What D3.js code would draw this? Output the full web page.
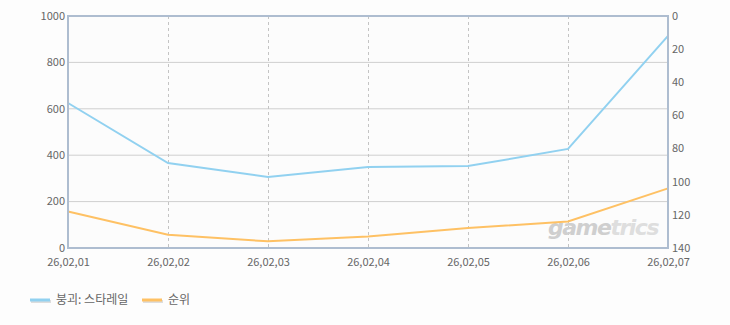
<!DOCTYPE html>
<html>
<head>
<meta charset="utf-8">
<script src="https://cdn.jsdelivr.net/npm/d3@7"></script>
<style>
body { margin: 0; background: #fdfdfd; }
text { font-family: "Noto Sans CJK KR", "DejaVu Sans", sans-serif; fill: #666; }
</style>
</head>
<body>
<div id="chart"></div>
<script>
"use strict";

// data
var dates = ["26,02,01", "26,02,02", "26,02,03", "26,02,04", "26,02,05", "26,02,06", "26,02,07"];
var players = [625, 366, 306, 349, 353, 427, 914];   // 붕괴: 스타레일 (left axis)
var ranks = [118, 132, 136, 133, 128, 124, 104];      // 순위 (right axis, reversed)
var leftTicks = [0, 200, 400, 600, 800, 1000];
var rightTicks = [0, 20, 40, 60, 80, 100, 120, 140];
var legendNames = ["붕괴: 스타레일", "순위"];

var W = 730, H = 325;
var m = {left: 68, right: 62, top: 16, bottom: 77};
var pw = W - m.left - m.right, ph = H - m.top - m.bottom;
var blue = "#91d1f0", orange = "#fec164";

var svg = d3.select('#chart').append('svg').attr('width', W).attr('height', H);
var g = svg.append('g').attr('transform', 'translate(' + m.left + ',' + m.top + ')');

var x = d3.scalePoint().domain(dates).range([0, pw]);
var yl = d3.scaleLinear().domain([0, 1000]).range([ph, 0]);
var yr = d3.scaleLinear().domain([0, 140]).range([0, ph]);

g.append('rect').attr('width', pw).attr('height', ph).attr('fill', '#fcfcfc');

// horizontal grid
g.selectAll('.hg').data(leftTicks.slice(1, -1)).enter().append('line')
	.attr('x1', 0).attr('x2', pw).attr('y1', d => yl(d)).attr('y2', d => yl(d))
	.attr('stroke', '#cfcfcf').attr('stroke-width', 1);

// vertical dashed grid
g.selectAll('.vg').data(dates.slice(1, -1)).enter().append('line')
	.attr('x1', d => x(d) + 0.5).attr('x2', d => x(d) + 0.5).attr('y1', 0).attr('y2', ph)
	.attr('stroke', '#c4c4c4').attr('stroke-dasharray', '3,3');

// watermark
var wm = g.append('text').attr('x', pw - 10).attr('y', ph - 13).attr('text-anchor', 'end')
	.style('font-family', '"DejaVu Sans", sans-serif').style('font-size', '22px')
	.style('font-weight', 'bold').style('font-style', 'italic').style('letter-spacing', '-1.5px');
wm.append('tspan').text('game').style('fill', '#cfcfcf');
wm.append('tspan').text('trics').style('fill', '#dedede');

var line = d3.line();
g.append('path').datum(players.map((v, i) => [x(dates[i]), yl(v)]))
	.attr('d', line).attr('fill', 'none').attr('stroke', blue).attr('stroke-width', 2);
g.append('path').datum(ranks.map((v, i) => [x(dates[i]), yr(v)]))
	.attr('d', line).attr('fill', 'none').attr('stroke', orange).attr('stroke-width', 2);

// frame
g.append('rect').attr('width', pw).attr('height', ph).attr('fill', 'none')
	.attr('stroke', '#aebdd0').attr('stroke-width', 2);

// axes
var axL = g.append('g').call(d3.axisLeft(yl).tickValues(leftTicks).tickFormat(d3.format('d')).tickSize(0).tickPadding(3));
var axR = g.append('g').attr('transform', 'translate(' + pw + ',0)')
	.call(d3.axisRight(yr).tickValues(rightTicks).tickSize(0).tickPadding(4));
var axB = g.append('g').attr('transform', 'translate(0,' + ph + ')')
	.call(d3.axisBottom(x).tickSize(0).tickPadding(10));
[axL, axR, axB].forEach(function(a) {
	a.select('.domain').remove();
	a.selectAll('text').style('font-size', '11px').style('fill', '#666')
		.style('font-family', '"Noto Sans CJK KR", "DejaVu Sans", sans-serif');
});
axL.selectAll('text').attr('dy', '0.3em');
axR.selectAll('text').attr('dy', '0.3em');

// legend
var lg = svg.append('g').attr('transform', 'translate(30,300)');
var lx = [0, 112];
[blue, orange].forEach(function(c, i) {
	var it = lg.append('g').attr('transform', 'translate(' + lx[i] + ',0)');
	it.append('line').attr('x1', 1).attr('x2', 21).attr('y1', 1.5).attr('y2', 1.5)
		.attr('stroke', '#ddd').attr('stroke-width', 3);
	it.append('line').attr('x1', 0).attr('x2', 20).attr('y1', 0).attr('y2', 0)
		.attr('stroke', c).attr('stroke-width', 3);
	it.append('text').attr('x', 26).attr('y', 0).attr('dy', '0.35em')
		.style('font-size', '12px').text(legendNames[i]);
});
</script>
</body>
</html>
